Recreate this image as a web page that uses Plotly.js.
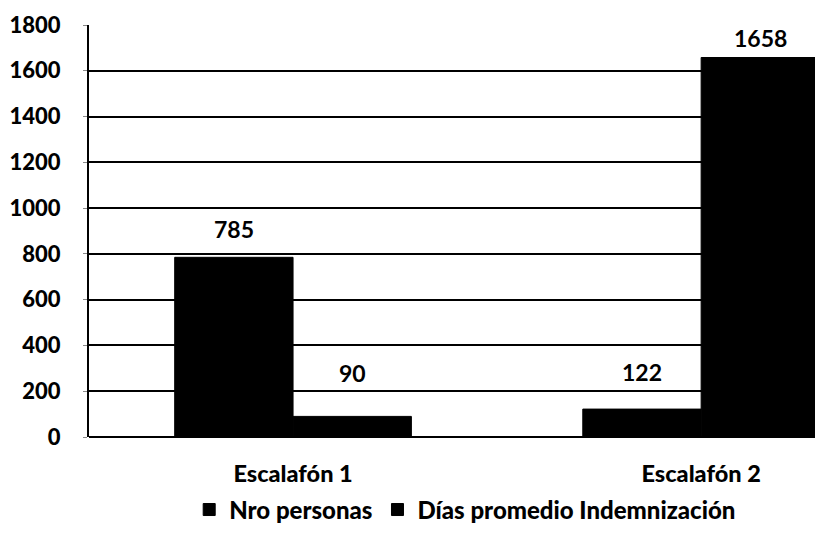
<!DOCTYPE html>
<html>
<head>
<meta charset="utf-8">
<script src="https://cdn.plot.ly/plotly-3.0.1.min.js"></script>
<style>html,body{margin:0;padding:0;background:#fff;}#chart{width:815px;height:536px;}</style>
</head>
<body>
<div id="chart"></div>
<script>
const categories = ["Escalafón 1", "Escalafón 2"];
const seriesNames = ["Nro personas", "Días promedio Indemnización"];
const nroPersonas = [785, 122];
const diasPromedio = [90, 1658];
const yTicks = [0, 200, 400, 600, 800, 1000, 1200, 1400, 1600, 1800];

// label offsets (pixels above bar top), styling only
const labelShift = [[28, 37], [43, 20]];
const groupOffsetPx = 59;

const FONT = "Lato, 'DejaVu Sans', sans-serif";

const traces = [nroPersonas, diasPromedio].map((vals, i) => ({
  type: 'bar',
  name: seriesNames[i],
  x: categories,
  y: vals,
  marker: {color: '#000000', line: {color: '#000000', width: 1}},
  cliponaxis: true,
  hoverinfo: 'x+y'
}));

const annotations = [];
[nroPersonas, diasPromedio].forEach((vals, i) => {
  vals.forEach((v, j) => {
    annotations.push({
      x: categories[j], y: v, xref: 'x', yref: 'y',
      text: '<b>' + v + '</b>', showarrow: false,
      xshift: (i === 0 ? -1 : 1) * groupOffsetPx,
      yshift: labelShift[i][j],
      yanchor: 'middle', xanchor: 'center',
      font: {family: FONT, size: 23, color: '#000', weight: 900}
    });
  });
});

const layout = {
  width: 815, height: 536,
  margin: {l: 89, r: 0, t: 25, b: 99},
  paper_bgcolor: '#ffffff', plot_bgcolor: '#ffffff',
  barmode: 'group', bargap: 0.42, bargroupgap: 0,
  showlegend: true,
  legend: {
    orientation: 'h', x: 0.138, xanchor: 'left', y: -0.177, yanchor: 'middle',
    font: {family: FONT, size: 24, color: '#000', weight: 900},
    itemwidth: 30, tracegroupgap: 0
  },
  xaxis: {
    type: 'category',
    range: [-0.5, 1.279],
    showgrid: false, zeroline: false, showline: false,
    ticks: '', ticklabelstandoff: 20,
    tickfont: {family: FONT, size: 23.5, color: '#000', weight: 900},
    fixedrange: true
  },
  yaxis: {
    range: [0, 1800],
    tickvals: yTicks,
    ticktext: yTicks.map(String),
    showgrid: true, gridcolor: '#000000', gridwidth: 2,
    zeroline: true, zerolinecolor: '#000000', zerolinewidth: 2,
    showline: true, linecolor: '#000000', linewidth: 2,
    ticks: 'outside', ticklen: 4, tickcolor: '#888', tickwidth: 1,
    ticklabelstandoff: 18,
    tickfont: {family: FONT, size: 22, color: '#000', weight: 900},
    fixedrange: true
  },
  annotations: annotations
};

Plotly.newPlot('chart', traces, layout, {displayModeBar: false, staticPlot: true});
</script>
</body>
</html>
